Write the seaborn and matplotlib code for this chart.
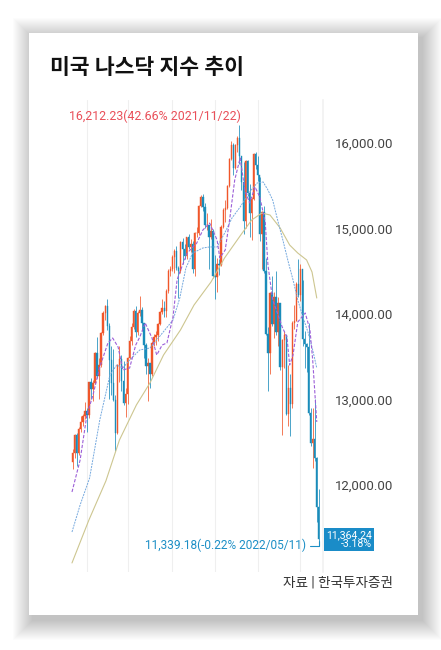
import numpy as np
import pandas as pd
import matplotlib.pyplot as plt
from matplotlib.patches import Rectangle
import seaborn as sns

# Nasdaq composite, 3-trading-day candles, Dec 2020 - 2022/05/11
first_open = 12268
closes = [12377, 12582, 12377, 12658, 12742, 12804, 12870, 12818, 13202, 13128,
          13197, 13543, 13270, 13403, 13777, 14007, 14095, 13865, 13465, 13192,
          12998, 12609, 13398, 13471, 13215, 12961, 13059, 13480, 13688, 13850,
          14039, 13787, 14016, 14051, 13895, 13632, 13389, 13430, 13299, 13661,
          13736, 13756, 13881, 14020, 14072, 14030, 14271, 14500, 14522, 14665,
          14733, 14543, 14498, 14837, 14763, 14681, 14895, 14788, 14822, 14525,
          14942, 14945, 15259, 15363, 15248, 15037, 15043, 14896, 14969, 14448,
          14433, 14579, 14571, 15021, 15216, 15236, 15498, 15811, 15982, 15704,
          15974, 16057, 15845, 15538, 15085, 15786, 15413, 15180, 15341, 15871,
          15741, 15622, 14936, 15188, 14506, 13769, 13542, 14240, 13878, 14194,
          13791, 14124, 13381, 13694, 13752, 12830, 13130, 12949, 13894, 13923,
          14354, 14221, 14532, 13711, 13644, 13619, 12840, 12490, 12536, 12318,
          11737, 11364.24]
highs = [12420, 12600, 12610, 12680, 12810, 12830, 12970, 12900, 13210, 13250,
         13230, 13560, 13730, 13480, 13790, 14030, 14100, 14175, 13900, 13620,
         13590, 13050, 13420, 13620, 13520, 13450, 13130, 13500, 13740, 13900,
         14060, 14090, 14040, 14211, 14080, 13900, 13660, 13480, 13430, 13680,
         13770, 13800, 13900, 14040, 14180, 14150, 14290, 14530, 14560, 14690,
         14760, 14800, 14560, 14850, 14890, 14820, 14900, 14930, 14880, 14850,
         14960, 15020, 15280, 15390, 15403, 15300, 15180, 14980, 15110, 14990,
         14690, 14650, 14640, 15040, 15240, 15330, 15510, 15830, 16020, 16000,
         15990, 16080, 16212.23, 15850, 15780, 15800, 15800, 15520, 15370, 15880,
         15900, 15850, 15600, 15200, 15260, 14650, 13850, 14260, 14440, 14260,
         14500, 14200, 14130, 13710, 13800, 13620, 13400, 13300, 13920, 14100,
         14370, 14646, 14590, 14400, 13800, 13660, 13900, 12900, 12900, 13000,
         12330, 11955]
lows = [12190, 12320, 12220, 12350, 12620, 12690, 12770, 12620, 12780, 13000,
        12980, 13180, 13250, 13000, 13380, 13760, 13930, 13810, 13000, 13050,
        12980, 12400, 12600, 13200, 13100, 12940, 12800, 12950, 13470, 13640,
        13830, 13730, 13760, 13980, 13800, 13480, 13300, 12980, 13140, 13280,
        13620, 13640, 13680, 13870, 14000, 13960, 13970, 14250, 14450, 14500,
        14480, 14520, 14190, 14480, 14580, 14640, 14640, 14760, 14720, 14480,
        14450, 14900, 14920, 15250, 15200, 15010, 14980, 14530, 14880, 14420,
        14180, 14260, 14460, 14560, 15000, 15080, 15230, 15490, 15800, 15620,
        15700, 15900, 15760, 15450, 14930, 15000, 15380, 14900, 14860, 15330,
        15700, 15560, 14850, 14530, 14480, 13750, 13094, 13300, 13860, 13720,
        13760, 13630, 13350, 12587, 13370, 12820, 12690, 12570, 12900, 13830,
        13920, 14200, 14150, 13630, 13370, 13320, 12820, 12460, 12200, 12280,
        11570, 11339.18]

# moving averages (trading-day index, level)
ma20_idx = [0, 12, 22, 31, 41, 53, 60, 68, 75, 85, 94, 100, 108, 118, 125, 133,
            140, 149, 155, 159, 170, 184, 193, 203, 214, 218, 226, 233, 240, 248,
            255, 262, 270, 277, 285, 289, 296, 304, 310, 317, 321, 326, 333, 344,
            351, 355, 361]
ma20_val = [11918, 12292, 12819, 13053, 13380, 13661, 13719, 13614, 13345, 13368,
            13637, 13731, 13895, 13719, 13520, 13637, 13661, 13965, 14398, 14491,
            14713, 14830, 14982, 15064, 14865, 14655, 14749, 15134, 15567, 15825,
            15450, 15298, 15485, 15368, 15076, 14573, 14164, 13988, 13848, 13731,
            13403, 13520, 13906, 14012, 13813, 13462, 12737]
ma60_idx = [0, 12, 26, 41, 56, 66, 75, 85, 100, 115, 125, 137, 149, 159, 168, 178,
            193, 203, 214, 226, 236, 248, 262, 273, 282, 289, 296, 304, 311, 319,
            326, 333, 341, 348, 355, 361]
ma60_val = [11450, 11766, 12082, 12760, 13287, 13403, 13368, 13462, 13579, 13602,
            13696, 13813, 13930, 14187, 14538, 14713, 14772, 14784, 14784, 14959,
            15123, 15251, 15427, 15532, 15544, 15450, 15333, 15076, 14865, 14608,
            14398, 14164, 13953, 13789, 13579, 13368]
ma120_idx = [0, 25, 50, 70, 95, 115, 135, 160, 180, 205, 225, 250, 265, 280, 292,
             307, 321, 333, 346, 354, 361]
ma120_val = [11088, 11591, 12047, 12526, 12936, 13193, 13520, 13813, 14105, 14374,
             14655, 14936, 15099, 15181, 15158, 15006, 14807, 14713, 14632, 14491,
             14187]

quarter_starts = [22, 83, 147, 211, 274, 336]
yticks = [12000, 13000, 14000, 15000, 16000]

high_label = '16,212.23(42.66% 2021/11/22)'
low_label = '11,339.18(-0.22% 2022/05/11)'
last_label = '11,364.24\n-3.18%'

UP = '#f0562a'
DOWN = '#1a8cba'
RED_TXT = '#e9505a'
BLUE_TXT = '#1d8fc6'

sns.set_theme(style='white')
plt.rcParams['font.family'] = ['Roboto', 'Noto Sans CJK KR', 'DejaVu Sans']

W, H = 441, 650
fig = plt.figure(figsize=(W / 100, H / 100), dpi=100)
fig.patch.set_facecolor('white')

def fx(px):
    return px / W

def fy(py):
    return 1 - py / H

# card with soft drop shadow (offset to the lower right)
cx0, cx1, cy0, cy1 = 29, 418, 33, 615
for i in range(20, 0, -1):
    fig.patches.append(Rectangle((fx(cx0 - i + 4), fy(cy1 + i + 5)),
                                 (cx1 - cx0 + 2 * i) / W, (cy1 - cy0 + 2 * i) / H,
                                 transform=fig.transFigure, facecolor='black',
                                 edgecolor='none', alpha=0.013, zorder=0))
fig.patches.append(Rectangle((fx(cx0), fy(cy1)), (cx1 - cx0) / W, (cy1 - cy0) / H,
                             transform=fig.transFigure, facecolor='white',
                             edgecolor='none', zorder=1))

ax = fig.add_axes([fx(65), fy(572), (323 - 65) / W, (572 - 100) / H])
ax.set_facecolor('none')
ax.set_zorder(2)

df = pd.DataFrame({'close': closes, 'high': highs, 'low': lows})
df['open'] = [first_open] + closes[:-1]
df['x'] = np.arange(len(df)) * 3 + 1
df['up'] = df['close'] >= df['open']

for is_up, col in [(True, UP), (False, DOWN)]:
    d = df[df['up'] == is_up]
    ax.vlines(d['x'], d['low'], d['high'], color=col, lw=0.55, zorder=2)
    ax.bar(d['x'], d['close'] - d['open'], bottom=d['open'], width=2.0,
           color=col, edgecolor=col, linewidth=0.3, zorder=2)

sns.lineplot(x=ma120_idx, y=ma120_val, ax=ax, color='#cdc690', lw=0.8, zorder=3)
sns.lineplot(x=ma60_idx, y=ma60_val, ax=ax, color='#74a8de', lw=0.7,
             linestyle=(0, (2, 1)), zorder=3)
sns.lineplot(x=ma20_idx, y=ma20_val, ax=ax, color='#9c5fd8', lw=0.8,
             linestyle=(0, (3, 1.5)), zorder=3)

for q in quarter_starts:
    ax.axvline(q, color='#efefef', lw=0.8, zorder=0)

ax.set_xlim(-10.3, 370.2)
ax.set_ylim(10982, 16503)
ax.set_xticks([])
ax.yaxis.tick_right()
ax.set_yticks(yticks)
ax.set_yticklabels([f'{v:,.2f}' for v in yticks])
ax.tick_params(axis='y', length=0, pad=8.5, labelsize=9.5, labelcolor='#444444')
for side in ['top', 'left', 'bottom']:
    ax.spines[side].set_visible(False)
ax.spines['right'].set_color('#f2f2f2')

# high / low markers
i_hi = int(np.argmax(highs))
i_lo = int(np.argmin(lows))
ax.annotate(high_label, xy=(df['x'][i_hi], highs[i_hi]), xytext=(1, 1),
            textcoords='offset points', ha='right', va='bottom',
            color=RED_TXT, fontsize=8.9, zorder=5)
ax.annotate(low_label, xy=(df['x'][i_lo], lows[i_lo]), xytext=(-9, -3),
            textcoords='offset points', ha='right', va='center',
            color=BLUE_TXT, fontsize=8.6, zorder=5,
            arrowprops=dict(arrowstyle='-', color=BLUE_TXT, lw=0.8,
                            shrinkA=0, shrinkB=0,
                            connectionstyle='angle,angleA=0,angleB=90,rad=0'))

# last price box
ax.text(1.19, closes[-1], last_label, transform=ax.get_yaxis_transform(),
        ha='right', va='center', color='white', fontsize=7.6, linespacing=0.8,
        clip_on=False, zorder=6,
        bbox=dict(boxstyle='square,pad=0.22', facecolor='#1a8cc8', edgecolor='none'))

fig.text(fx(50), fy(68), '미국 나스닥 지수 추이', ha='left', va='center',
         fontsize=15.5, fontweight='bold', color='#111111', zorder=5)
fig.text(fx(393), fy(583), '자료 | 한국투자증권', ha='right', va='center',
         fontsize=9.8, color='#333333', zorder=5)

fig.savefig('out.png', dpi=100)
